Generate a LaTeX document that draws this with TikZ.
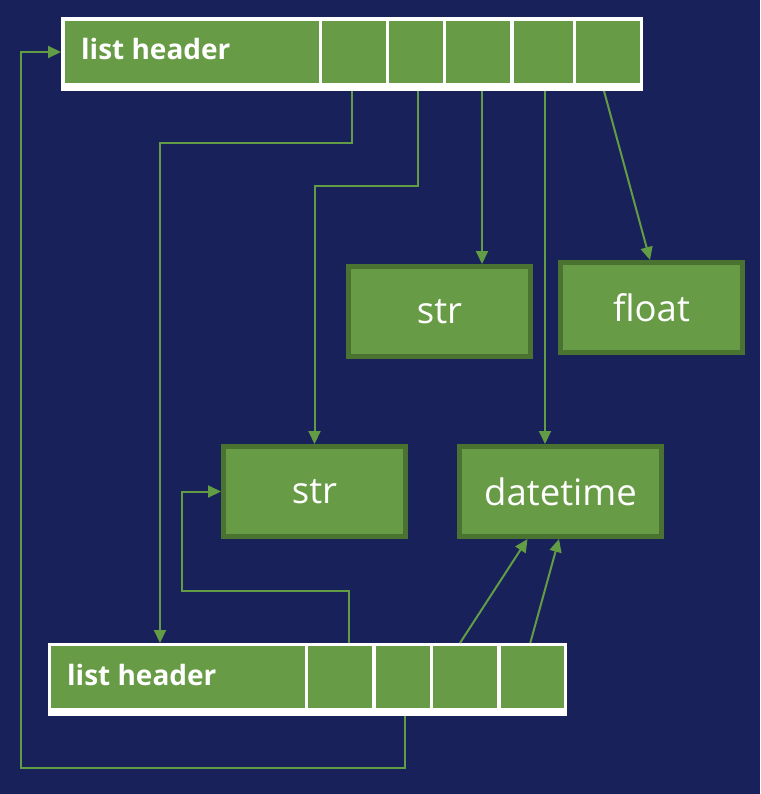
\documentclass[tikz,border=0pt]{standalone}
\usepackage{fontspec}
\setmainfont{Open Sans}
\usetikzlibrary{arrows.meta,calc}
\definecolor{bg}{HTML}{19215A}
\definecolor{gfill}{HTML}{679B45}
\definecolor{gdark}{HTML}{4A7332}
\definecolor{gline}{HTML}{629C44}
\begin{document}
\begin{tikzpicture}[x=1pt,y=-1pt,
  cell/.style={fill=gfill, draw=none, inner sep=0pt, outer sep=0pt, anchor=north west, minimum height=62pt},
  frame/.style={fill=white, draw=none, inner sep=0pt, outer sep=0pt, anchor=north west},
  valbox/.style={fill=gfill, draw=gdark, line width=5pt, text=white, inner sep=0pt,
                 minimum height=90pt, font=\fontsize{36.5}{42}\selectfont},
  link/.style={draw=gline, line width=2pt, -{Triangle[length=13pt,width=12pt]}},
  hdr/.style={text=white, font=\bfseries\fontsize{28}{32}\selectfont, anchor=base west, inner sep=0pt}
]
\useasboundingbox (0,0) rectangle (760,794);
\fill[bg] (0,0) rectangle (760,794);

% top list
\node[frame, minimum width=582pt, minimum height=74pt] (tf) at (61,17) {};
\node[cell, minimum width=254pt] (t1) at (65,21) {};
\node[cell, minimum width=64pt] (t2) at (322,21) {};
\node[cell, minimum width=54pt] (t3) at (389,21) {};
\node[cell, minimum width=64pt] (t4) at (446,21) {};
\node[cell, minimum width=59pt] (t5) at (514,21) {};
\node[cell, minimum width=64pt] (t6) at (576,21) {};
\node[hdr] (tl) at (81,60) {list header};

% bottom list
\node[frame, minimum width=519pt, minimum height=73pt] (bf) at (48,643) {};
\node[cell, minimum width=254pt] (b1) at (51,646) {};
\node[cell, minimum width=64pt] (b2) at (308,646) {};
\node[cell, minimum width=54pt] (b3) at (376,646) {};
\node[cell, minimum width=64pt] (b4) at (433,646) {};
\node[cell, minimum width=63.5pt] (b5) at (500.5,646) {};
\node[hdr] (bl) at (67,685) {list header};

% value boxes
\node[valbox, minimum width=182pt] (s1) at (439.5,311.5) {str};
\node[valbox, minimum width=182pt] (fl) at (651.5,307.5) {float};
\node[valbox, minimum width=182pt] (s2) at (314.5,491.5) {str};
\node[valbox, minimum width=202pt] (dt) at (560.5,491.5) {datetime};

% turning points
\coordinate (c1) at (160,143);
\coordinate (c2) at (0,186);
\coordinate (c3) at (182,591);
\coordinate (c4) at (21,768);

% connectors
\draw[link] ([xshift=-2pt]t2.south |- tf.south) |- (c1) -- (c1 |- bf.north);
\draw[link] ([xshift=2pt]t3.south |- tf.south) |- (s2.north |- c2) -- (s2.north);
\draw[link] ([xshift=4pt]t4.south |- tf.south) -- ([xshift=4pt]t4.south |- s1.north);
\draw[link] ([xshift=1.5pt]t5.south |- tf.south) -- ([xshift=1.5pt]t5.south |- dt.north);
\draw[link] ([xshift=-4pt]t6.south |- tf.south) -- ([xshift=-1.5pt]fl.north);
\draw[link] ([xshift=9pt]b2.north |- bf.north) |- (c3) |- (s2.west);
\draw[link] ([xshift=-5pt]b4.north |- bf.north) -- ([xshift=-33pt]dt.south);
\draw[link] ([xshift=-2pt]b5.north |- bf.north) -- ([xshift=-1.5pt]dt.south);
\draw[link] ([xshift=2pt]b3.south |- bf.south) |- (c4) |- ([yshift=2pt]tf.west);
\end{tikzpicture}
\end{document}
